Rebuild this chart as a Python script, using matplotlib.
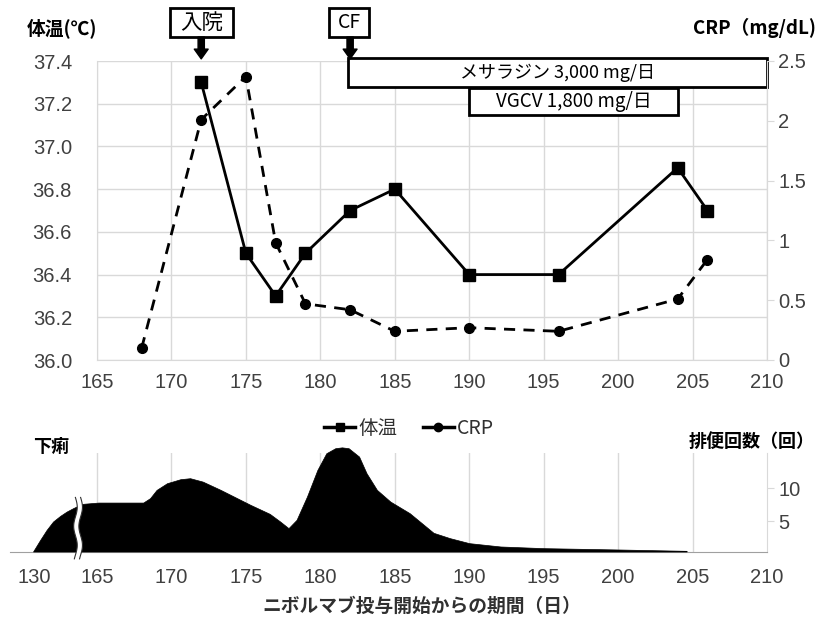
import matplotlib
matplotlib.use("Agg")
import matplotlib.pyplot as plt
import numpy as np
from matplotlib.patches import Rectangle, Polygon
from matplotlib.lines import Line2D

plt.rcParams['font.family'] = ['Noto Sans CJK JP', 'DejaVu Sans']

# ---------------- data ----------------
temp_days = [172, 175, 177, 179, 182, 185, 190, 196, 204, 206]
temp_vals = [37.3, 36.5, 36.3, 36.5, 36.7, 36.8, 36.4, 36.4, 36.9, 36.7]

crp_days = [168, 172, 175, 177, 179, 182, 185, 190, 196, 204, 206]
crp_vals = [0.10, 2.01, 2.37, 0.98, 0.47, 0.42, 0.24, 0.27, 0.24, 0.51, 0.84]

temp_ticks = [36.0, 36.2, 36.4, 36.6, 36.8, 37.0, 37.2, 37.4]
crp_ticks = [0, 0.5, 1, 1.5, 2, 2.5]
day_ticks = [165, 170, 175, 180, 185, 190, 195, 200, 205, 210]

admission_day = 172
cf_day = 182
mesalazine_span = (182, 210)
vgcv_span = (190, 204)

# diarrhea (bowel movements per day); early days are before the axis break
diarrhea_early_days = [129.9, 130.9, 131.8, 132.7, 133.7, 134.6, 135.5]
diarrhea_early_vals = [0.5, 2.25, 3.74, 4.99, 5.84, 6.48, 6.99]
diarrhea_days = [164.0, 165.1, 166.5, 168.1, 168.56, 169.0, 169.7, 170.6, 171.25,
                 172.1, 173.3, 175.3, 176.6, 177.3, 177.86, 178.4, 179.1, 179.8,
                 180.4, 181.0, 181.45, 181.9, 182.6, 183.1, 183.8, 184.7, 186.0,
                 187.6, 188.7, 190.0, 192.1, 195.0, 200.0, 204.6]
diarrhea_vals = [7.63, 7.83, 7.83, 7.83, 8.49, 9.73, 10.73, 11.33, 11.48,
                 10.97, 9.73, 7.49, 6.14, 4.99, 4.0, 5.24, 8.73, 12.72,
                 15.22, 15.97, 16.1, 15.97, 14.72, 12.23, 9.73, 7.98, 6.24,
                 3.3, 2.5, 1.75, 1.25, 1.0, 0.8, 0.6]
diarrhea_ticks = [5, 10]
break_label = 130

# --------------- figure ---------------
W, H = 818, 619
fig = plt.figure(figsize=(W / 100, H / 100), dpi=100)

def fx(px):
    return px / W

def fy(py):
    return 1 - py / H

grid_c = '#d9d9d9'
tick_c = '#404040'
num_font = ['Liberation Sans', 'DejaVu Sans']
num_size = 14.5

ax1 = fig.add_axes([fx(97), fy(360), fx(767) - fx(97), fy(61) - fy(360)])
ax1.set_xlim(165, 210)
ax1.set_ylim(36.0, 37.4)
ax1.set_xticks(day_ticks)
ax1.set_yticks(temp_ticks)
ax1.set_yticklabels([f"{t:.1f}" for t in temp_ticks])
ax1.grid(True, color=grid_c, lw=1)
ax1.set_axisbelow(True)
ax1.spines['top'].set_visible(False)
for s in ['left', 'bottom', 'right']:
    ax1.spines[s].set_color(grid_c)
ax1.tick_params(axis='y', length=0, colors=tick_c, labelsize=num_size, pad=18)
ax1.tick_params(axis='x', length=0, colors=tick_c, labelsize=num_size, pad=9)
for lab in ax1.get_xticklabels() + ax1.get_yticklabels():
    lab.set_family(num_font)

ax2 = ax1.twinx()
ax2.set_ylim(0, 2.5)
ax2.set_yticks(crp_ticks)
ax2.set_yticklabels([f"{t:g}" for t in crp_ticks])
ax2.tick_params(length=5, color=grid_c, colors=tick_c, labelsize=num_size, pad=3)
for lab in ax2.get_yticklabels():
    lab.set_family(num_font)
for s in ['top', 'left', 'bottom']:
    ax2.spines[s].set_visible(False)
ax2.spines['right'].set_color(grid_c)

ax1.plot(temp_days, temp_vals, color='black', lw=2, marker='s', ms=8, zorder=5, clip_on=False)
ax2.plot(crp_days, crp_vals, color='black', lw=2, ls=(0, (4, 3)), marker='o', ms=7, zorder=5, clip_on=False)

# annotations
def box(ax, x0, x1, y0, y1, text, fs):
    r = Rectangle((x0, y0), x1 - x0, y1 - y0, fill=True, fc='white', ec='black', lw=2,
                  clip_on=False, zorder=10, transform=ax.transData)
    ax.add_patch(r)
    ax.text((x0 + x1) / 2, (y0 + y1) / 2, text, ha='center', va='center', fontsize=fs,
            zorder=11, clip_on=False)

box(ax1, admission_day - 2.1, admission_day + 2.15, 37.512, 37.648, '入院', 15.5)
box(ax1, cf_day - 1.4, cf_day + 1.3, 37.512, 37.648, 'CF', 14)
box(ax1, mesalazine_span[0] - 0.15, mesalazine_span[1], 37.278, 37.414, 'メサラジン 3,000 mg/日', 13)
box(ax1, vgcv_span[0], vgcv_span[1], 37.147, 37.273, 'VGCV 1,800 mg/日', 13.5)

for d in [admission_day, cf_day]:
    ax1.annotate('', xy=(d, 37.41), xytext=(d, 37.512),
                 arrowprops=dict(arrowstyle='simple,head_width=1.0,head_length=0.7,tail_width=0.45',
                                 fc='black', ec='black', shrinkA=0, shrinkB=0),
                 annotation_clip=False, zorder=12)

fig.text(fx(27), fy(28), '体温(℃)', fontsize=13.5, fontweight='bold', va='center', ha='left')
fig.text(fx(816), fy(28), 'CRP（mg/dL)', fontsize=13.5, fontweight='bold', va='center', ha='right')

# legend
handles = [Line2D([], [], color='black', lw=2.5, marker='s', ms=6),
           Line2D([], [], color='black', lw=2.5, marker='o', ms=6)]
fig.legend(handles, ['体温', 'CRP'], loc='center', bbox_to_anchor=(fx(409), fy(428)),
           ncol=2, frameon=False, fontsize=14, handlelength=1.6, columnspacing=1.3,
           handletextpad=0.15, labelcolor='#303030')

# --------------- bottom chart ---------------
ax3 = fig.add_axes([fx(10), fy(551.5), fx(767) - fx(10), fy(452.7) - fy(551.5)])
x_left = 165 + (10 - 97) / (74.4 / 5)
ax3.set_xlim(x_left, 210)
ax3.set_ylim(0.5, 15.3)

def early_map(d):
    # compress pre-break days into the small segment left of the break
    return 160.75 + (np.asarray(d) - 130) * 0.48

xs = np.concatenate([early_map(diarrhea_early_days), diarrhea_days])
ys = np.concatenate([diarrhea_early_vals, diarrhea_vals])
ax3.fill_between(xs, 0.5, ys, color='black', lw=0.5, ec='black', clip_on=False, zorder=3)

ax3.set_xticks([early_map(break_label)] + day_ticks)
ax3.set_xticklabels([str(break_label)] + [str(d) for d in day_ticks])
for d in day_ticks[:-1]:
    ax3.axvline(d, color=grid_c, lw=1, zorder=1)
ax3.yaxis.tick_right()
ax3.set_yticks(diarrhea_ticks)
ax3.tick_params(axis='y', length=5, color=grid_c, colors=tick_c, labelsize=num_size, pad=3)
ax3.tick_params(axis='x', length=0, colors=tick_c, labelsize=num_size, pad=12)
for lab in ax3.get_xticklabels() + ax3.get_yticklabels():
    lab.set_family(num_font)
for s in ['top', 'left']:
    ax3.spines[s].set_visible(False)
ax3.spines['right'].set_color(grid_c)
ax3.spines['bottom'].set_color('#a0a0a0')

# axis break marks
tb = np.linspace(-0.6, 8.6, 60)
xb = 163.55 + 0.12 * np.sin(tb * 1.1)
poly = np.column_stack([np.concatenate([xb, (xb + 0.35)[::-1]]),
                        np.concatenate([tb, tb[::-1]])])
ax3.add_patch(Polygon(poly, closed=True, fc='white', ec='none', clip_on=False, zorder=6))
ax3.plot(xb, tb, color='#303030', lw=0.8, clip_on=False, zorder=7)
ax3.plot(xb + 0.35, tb, color='#303030', lw=0.8, clip_on=False, zorder=7)

fig.text(fx(33), fy(446), '下痢', fontsize=13, fontweight='bold', va='center', ha='left')
fig.text(fx(815), fy(441), '排便回数（回）', fontsize=13, fontweight='bold', va='center', ha='right')
fig.text(fx(422), fy(606), 'ニボルマブ投与開始からの期間（日）', fontsize=13.5, fontweight='bold',
         color='#303030', va='center', ha='center')

fig.savefig('out.png', dpi=100)
